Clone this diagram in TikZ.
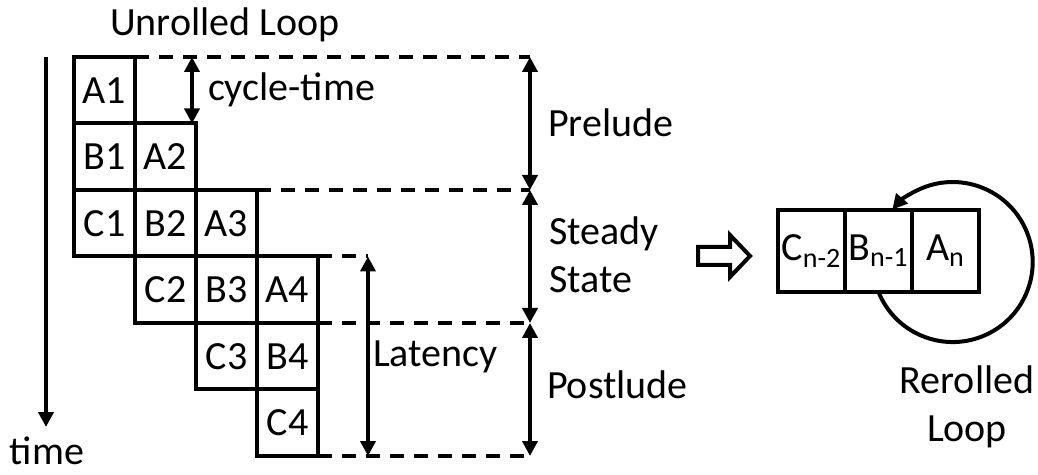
\documentclass[tikz,border=0pt]{standalone}
\usepackage{fontspec}
\setmainfont{Carlito}
\usetikzlibrary{positioning,arrows.meta}

\begin{document}
\begin{tikzpicture}[x=0.5pt,y=-0.5pt,
font=\fontsize{20}{24}\selectfont,
cell/.style={rectangle,draw,line width=2pt,outer sep=0pt,inner sep=0pt,minimum width=30.5pt,minimum height=33.25pt},
rcell/.style={cell,minimum width=33.5pt,minimum height=41pt},
guide/.style={line width=2pt,dash pattern=on 7pt off 5pt},
span/.style={{Triangle[length=7.5pt,width=7.5pt]}-{Triangle[length=7.5pt,width=7.5pt]},line width=2pt},
arrow/.style={-{Triangle[length=7.5pt,width=7.5pt]},line width=2pt}
]
\useasboundingbox (0,0) rectangle (1038,475);

% unrolled loop
\foreach \i [evaluate=\i as \cx using 104.5+61*(\i-1), evaluate=\i as \cy using 90.25+66.5*(\i-1)] in {1,...,4} {
  \node[cell] (a\i) at (\cx,\cy) {A\i};
  \node[cell,below=0pt of a\i] (b\i) {B\i};
  \node[cell,below=0pt of b\i] (c\i) {C\i};
}

\coordinate (p0) at (530,57);
\coordinate (p1) at (530,190);
\coordinate (p2) at (530,323);
\coordinate (p3) at (530,456);
\coordinate (l0) at (368,256.5);
\coordinate (l1) at (368,456);
\coordinate (ct0) at (192,57);
\coordinate (ct1) at (192,123.5);
\coordinate (t0) at (46,57);
\coordinate (t1) at (46,427);

\draw[guide] (a1.north east) -- (p0);
\draw[guide] (a3.north east) -- (p1);
\draw[guide] (a4.south east) -- (p2);
\draw[guide] (c4.south east) -- (p3);
\draw[guide] (a4.north east) -- (l0);

\draw[span] (p0) -- (p1);
\draw[span] (p1) -- (p2);
\draw[span] (p2) -- (p3);
\draw[span] (l0) -- (l1);
\draw[span] (ct0) -- (ct1);
\draw[arrow] (t0) -- (t1);

\node (ttl) at (225,25) {Unrolled Loop};
\node[anchor=west] (ctl) at (201,90) {cycle-time};
\node[anchor=west] (pre) at (541,123) {Prelude};
\node[anchor=west,align=left] (sst) at (542,255) {Steady\\State};
\node[anchor=west] (pst) at (540,385) {Postlude};
\node[anchor=west] (lat) at (366,357) {Latency};
\node (tm) at (47,451) {time};

% rerolled loop
\draw[line width=2pt,line join=miter] (698,247) -- (730,247) -- (730,235) -- (750,256) -- (730,277) -- (730,265) -- (698,265) -- cycle;

\node[rcell] (rc) at (811.5,251) {C\textsubscript{n-2}};
\node[rcell,right=0pt of rc] (rb) {B\textsubscript{n-1}};
\node[rcell,right=0pt of rb] (ra) {A\textsubscript{n}};
\draw[arrow] (rb.south) arc[start angle=202,end angle=499,radius=40pt];

\node[align=center] (rl) at (967,407) {Rerolled\\Loop};
\end{tikzpicture}
\end{document}
